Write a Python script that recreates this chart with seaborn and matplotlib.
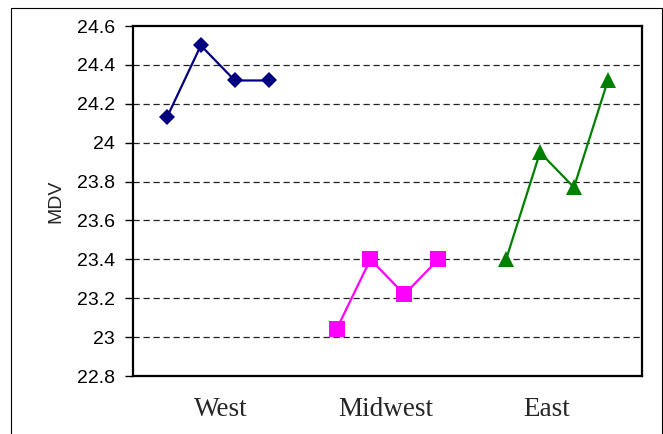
"""
MDV by region: three short series drawn side by side on one axis.
"""

import matplotlib.pyplot as plt
import matplotlib.patches as mpatches
from matplotlib.ticker import FuncFormatter, MultipleLocator
import seaborn as sns
import pandas as pd

# Data
regions = ['West', 'Midwest', 'East']
west_mdv = [24.13, 24.50, 24.32, 24.32]
midwest_mdv = [23.04, 23.40, 23.22, 23.40]
east_mdv = [23.40, 23.95, 23.77, 24.32]
series = [west_mdv, midwest_mdv, east_mdv]

# Styles
colors = ['#000080', '#FF00FF', '#008000']
markers = ['D', 's', '^']
marker_sizes = [8.5, 11.5, 11.5]
label_offsets = [2.6, 7.45, 12.2]   # where each region name sits on the x axis

sns.set_style("white")
plt.rcParams['font.family'] = ['Liberation Sans', 'DejaVu Sans']

# Long table: each region gets 4 slots, with one empty slot between groups
rows = []
for g, (region, vals) in enumerate(zip(regions, series)):
    for i, v in enumerate(vals):
        rows.append({'region': region, 'slot': g * 5 + i + 1, 'MDV': v})
df = pd.DataFrame(rows)

fig = plt.figure(figsize=(6.63, 4.34), dpi=100)
ax = fig.add_axes([0.2006, 0.1336, 0.7674, 0.8064])

# Dashed horizontal grid
for yv in [23.0, 23.2, 23.4, 23.6, 23.8, 24.0, 24.2, 24.4]:
    ax.axhline(yv, color='#222222', lw=0.9, ls=(0, (5, 3)), zorder=0)

for region, c, m, ms in zip(regions, colors, markers, marker_sizes):
    sub = df[df['region'] == region]
    sns.lineplot(data=sub, x='slot', y='MDV', ax=ax, color=c, lw=1.6,
                 marker=m, markersize=ms, markeredgecolor=c, markeredgewidth=0,
                 legend=False)

ax.set_xlim(0, 15)
ax.set_ylim(22.8, 24.6)
ax.yaxis.set_major_locator(MultipleLocator(0.2))
ax.yaxis.set_major_formatter(FuncFormatter(lambda v, p: f'{v:g}'))
ax.tick_params(axis='y', left=True, length=6, width=1, pad=7, labelsize=14,
               color='black', labelcolor='black')

ax.set_xticks(label_offsets)
ax.set_xticklabels(regions, fontsize=19.5, family=['Liberation Serif', 'DejaVu Serif'])
ax.tick_params(axis='x', length=0, pad=15)

ax.set_xlabel('')
ax.set_ylabel('MDV', fontsize=14, labelpad=9)

for s in ax.spines.values():
    s.set_color('black')
    s.set_linewidth(1.6)

# Outer frame around the chart
fig.patches.append(mpatches.Rectangle((11 / 663, -0.05), 651 / 663, 1.05 - 8 / 434,
                                      transform=fig.transFigure, fill=False,
                                      edgecolor='black', lw=0.8))

plt.savefig('out.png', dpi=100)
plt.close()
